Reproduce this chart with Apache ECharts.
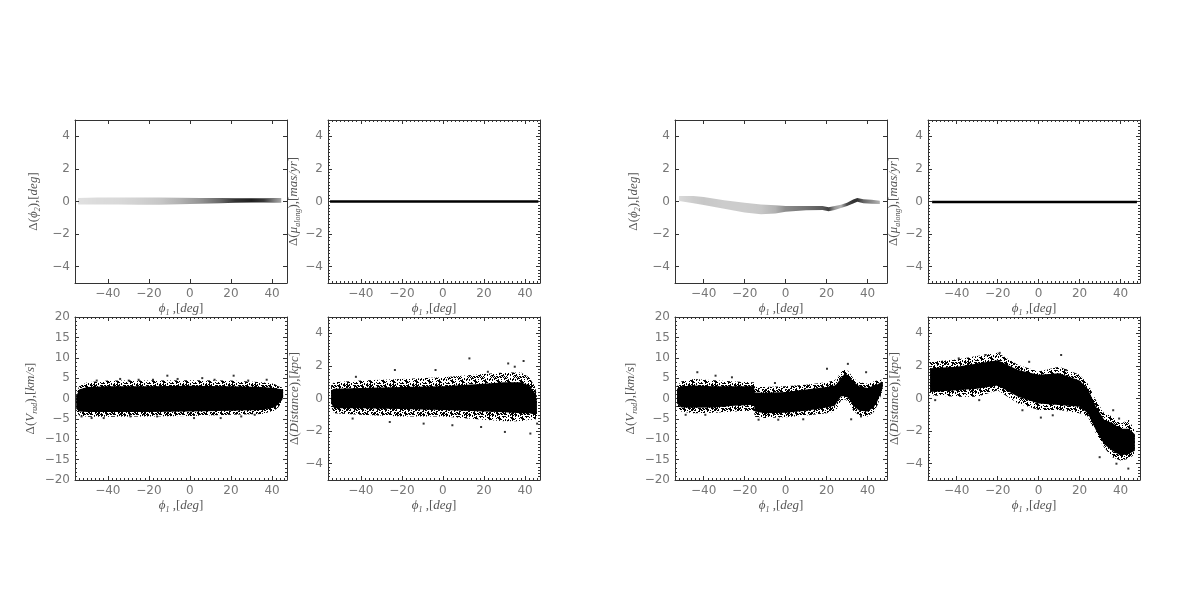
<!DOCTYPE html>
<html>
<head>
<meta charset="utf-8">
<title>stream residuals</title>
<script src="https://cdn.jsdelivr.net/npm/echarts@6/dist/echarts.min.js"></script>
<style>
  html, body { margin: 0; padding: 0; background: #fff; }
  #chart { width: 1200px; height: 600px; }
</style>
</head>
<body>
<div id="chart"></div>
<script>
// ---------- values ----------
// tick labels
const phi1Ticks = [-40, -20, 0, 20, 40];
const smallTicks = [-4, -2, 0, 2, 4];
const vradTicks = [-20, -15, -10, -5, 0, 5, 10, 15, 20];

// model 1 (left block) -- delta phi2, faint grey band (centre, half width, darkness)
const m1Phi2X = [-54.5, -45, -35, -25, -15, -5, 5, 15, 22, 30, 36, 41, 44.5];
const m1Phi2Mid = [0.02, 0.03, 0.03, 0.02, 0.02, 0.03, 0.04, 0.05, 0.06, 0.07, 0.07, 0.07, 0.07];
const m1Phi2Half = [0.2, 0.22, 0.22, 0.22, 0.22, 0.2, 0.18, 0.16, 0.14, 0.13, 0.13, 0.14, 0.14];
const m1Phi2Dens = [0.12, 0.14, 0.15, 0.18, 0.22, 0.3, 0.42, 0.6, 0.8, 0.88, 0.78, 0.5, 0.35];

// model 1 -- delta mu_along, thin line
const m1MuX = [-55, 46.5];
const m1MuMid = [0, 0];
const m1MuHalf = [0.08, 0.08];

// model 1 -- delta V_rad cloud (dense core and speckled fringe)
const m1VradX = [-55.4, -54, -50, -40, -20, 0, 20, 35, 41, 43, 45, 45.4];
const m1VradCoreLo = [-2.5, -3.2, -3.3, -3.3, -3.3, -3.2, -3.0, -2.8, -2.2, -1.5, -0.3, 0.5];
const m1VradCoreHi = [0.5, 2.2, 2.8, 3.0, 3.0, 3.1, 3.0, 2.8, 2.6, 2.4, 2.3, 2.0];
const m1VradOutLo = [-3.0, -4.2, -4.5, -4.5, -4.4, -4.3, -4.0, -3.8, -3.0, -2.2, -0.8, 0.3];
const m1VradOutHi = [1.0, 3.0, 4.0, 4.4, 4.4, 4.5, 4.4, 4.0, 3.6, 3.0, 2.7, 2.3];
const m1VradDotX = [-45.4, -34, -29.8, -25, -18, -11, -6, 6, 12, 21.3, 28.4, 37.4,
  -52.8, -47.9, -42, -29, -16, 2, 15, 25, 31.6];
const m1VradDotY = [4.4, 4.8, 4.4, 4.6, 4.6, 5.6, 4.8, 5, 4.6, 5.6, 4.4, 4.6,
  -4.4, -4.8, -4.8, -4.4, -4.4, -4.8, -4.8, -4.4, -4.0];

// model 1 -- delta distance cloud
const m1DistX = [-54.5, -53, -40, -20, 0, 20, 30, 38, 42, 45, 45.8];
const m1DistCoreLo = [-0.3, -0.6, -0.6, -0.65, -0.7, -0.8, -0.85, -0.9, -0.9, -1.0, -0.9];
const m1DistCoreHi = [0.5, 0.6, 0.65, 0.7, 0.75, 0.9, 1.0, 1.0, 0.8, 0.3, -0.2];
const m1DistOutLo = [-0.5, -0.9, -1.0, -1.1, -1.1, -1.3, -1.4, -1.4, -1.3, -1.3, -1.1];
const m1DistOutHi = [0.8, 1.0, 1.1, 1.2, 1.3, 1.5, 1.6, 1.6, 1.3, 0.7, 0.1];
const m1DistDotX = [12.9, 39.3, 31.8, -3.6, -23.4, -42.4, 21.9, 35,
  42.6, 30.2, 18.6, 4.6, -9.4, -25.9, -44, 45.9];
const m1DistDotY = [2.46, 2.3, 2.15, 1.75, 1.75, 1.33, 1.64, 1.95,
  -2.15, -2.05, -1.75, -1.64, -1.54, -1.44, -1.23, -1.54];

// model 2 (right block) -- delta phi2
const m2Phi2X = [-52, -45, -40, -30, -20, -12, -5, 0, 10, 18, 21, 24, 27, 30, 33, 35, 38, 42, 46];
const m2Phi2Mid = [0.18, 0.12, 0.03, -0.18, -0.38, -0.48, -0.48, -0.45, -0.4, -0.4, -0.48, -0.4, -0.3, -0.18, 0.0, 0.1, 0.02, -0.02, -0.05];
const m2Phi2Half = [0.15, 0.22, 0.24, 0.26, 0.3, 0.3, 0.25, 0.18, 0.13, 0.12, 0.12, 0.12, 0.1, 0.1, 0.12, 0.12, 0.12, 0.12, 0.1];
const m2Phi2Dens = [0.15, 0.2, 0.22, 0.2, 0.2, 0.22, 0.3, 0.45, 0.55, 0.65, 0.75, 0.4, 0.3, 0.7, 0.8, 0.8, 0.6, 0.45, 0.3];

// model 2 -- delta mu_along
const m2MuX = [-52, 48];
const m2MuMid = [-0.03, -0.03];
const m2MuHalf = [0.08, 0.08];

// model 2 -- delta V_rad
const m2VradX = [-53, -51, -45, -35, -25, -17, -15.5, -15, -10, 0, 10, 20, 24, 25, 27, 29, 31, 33, 36, 40, 43, 45, 47, 47.5];
const m2VradCoreLo = [-1.2, -2.2, -2.3, -2.2, -1.8, -1.6, -1.6, -3.2, -3.6, -3.5, -3.0, -2.2, -1.8, -1.0, 0.5, 0.6, 0.0, -1.8, -3.0, -3.2, -2.2, -0.5, 2.0, 3.0];
const m2VradCoreHi = [2.4, 3.0, 3.2, 3.0, 3.0, 3.0, 3.0, 1.5, 1.4, 1.6, 2.2, 2.8, 3.2, 3.6, 5.0, 6.2, 5.5, 4.2, 3.0, 2.6, 3.2, 3.5, 4.2, 3.8];
const m2VradOutLo = [-2.0, -3.2, -3.6, -3.5, -3.2, -3.0, -3.0, -4.5, -4.8, -4.6, -4.2, -3.6, -3.2, -2.5, -0.5, -0.2, -1.0, -3.0, -4.2, -4.4, -3.4, -1.5, 1.5, 2.8];
const m2VradOutHi = [3.0, 4.2, 4.8, 4.5, 4.2, 4.0, 4.0, 2.8, 2.8, 3.0, 3.4, 4.0, 4.5, 5.0, 6.5, 7.3, 6.5, 5.0, 4.0, 3.6, 4.2, 4.5, 4.6, 4.0];
const m2VradDotX = [-43.1, -34.2, -26.2, 20.2, 30.4, 39.3, -5.2,
  -48.8, -39.2, -13.2, -3.6, 8.6, 32, 36.8];
const m2VradDotY = [6.45, 5.6, 5.2, 7.3, 8.5, 6.45, 3.8,
  -4.0, -4.0, -5.2, -5.2, -5.1, -5.1, -4.4];

// model 2 -- delta distance
const m2DistX = [-53, -40, -30, -20, -10, 0, 10, 20, 24, 28, 32, 36, 40, 44, 47];
const m2DistCoreLo = [0.4, 0.5, 0.6, 0.8, 0.1, -0.3, -0.4, -0.5, -0.9, -1.95, -2.8, -3.2, -3.5, -3.4, -3.2];
const m2DistCoreHi = [1.85, 1.95, 2.15, 2.35, 1.75, 1.45, 1.55, 1.1, 0.6, -0.5, -1.3, -1.5, -1.85, -1.85, -2.2];
const m2DistOutLo = [0.2, 0.1, 0.1, 0.5, -0.3, -0.7, -0.7, -0.9, -1.1, -2.15, -3.0, -3.6, -3.8, -3.7, -3.4];
const m2DistOutHi = [2.25, 2.4, 2.6, 2.8, 2.05, 1.65, 1.95, 1.45, 0.9, -0.1, -0.9, -1.1, -1.55, -1.3, -2.0];
const m2DistDotX = [-19, -26, -4.6, 11, 13.4, -39, -47.2, 36.4, 39.3,
  1.1, 6.9, -7.9, 43.8, 38, 29.8, -29, -50.5];
const m2DistDotY = [2.8, 2.67, 2.25, 2.67, 1.74, 2.46, 2.25, -0.72, -1.23,
  -1.17, -1.03, -0.72, -4.3, -4.0, -3.6, -0.1, -0.1];

// ---------- layout / style ----------
const frameColor = '#333';
const tickLabelColor = '#777';
const nameColor = '#555';
const gridW = 212, gridH = 163;
const gridPos = [[75, 120], [328, 120], [75, 317], [328, 317],
                 [675, 120], [928, 120], [675, 317], [928, 317]];

// speckle texture for the sparse fringe of the point clouds (fixed, irregular tile)
const speckle = document.createElement('canvas');
speckle.width = 23;
speckle.height = 23;
(function () {
  const c = speckle.getContext('2d');
  c.fillStyle = '#000';
  for (let y = 0; y < 23; y++) {
    for (let x = 0; x < 23; x++) {
      if ((x * x * 31 + y * y * 17 + x * y * 7 + x * 3 + y * 5) % 23 < 9) c.fillRect(x, y, 1, 1);
    }
  }
})();

const mathFont = 'Liberation Serif';
const rich = {
  r: { fontFamily: mathFont, fontSize: 13, color: nameColor, lineHeight: 16 },
  i: { fontFamily: mathFont, fontStyle: 'italic', fontSize: 13, color: nameColor, lineHeight: 16 },
  s: { fontFamily: mathFont, fontStyle: 'italic', fontSize: 8, color: nameColor, lineHeight: 9, verticalAlign: 'bottom' }
};
const names = {
  phi1: '{i|ϕ}{s|1}{r| ,[}{i|deg}{r|]}',
  phi2: '{r|Δ(}{i|ϕ}{s|2}{r|),[}{i|deg}{r|]}',
  mu: '{r|Δ(}{i|μ}{s|along}{r|),[}{i|mas/yr}{r|]}',
  vrad: '{r|Δ(}{i|V}{s|rad}{r|),[}{i|km/s}{r|]}',
  dist: '{r|Δ(}{i|Distance}{r|),[}{i|kpc}{r|]}'
};

const fmt = v => String(v).replace('-', '\u2212');

const xAxes = [], yAxes = [], series = [];

function addAxes(list, isX, gi, range, majors, minorStep, withMinor, name, gap) {
  const pos = isX ? ['bottom', 'top'] : ['left', 'right'];
  const base = {
    type: 'value', gridIndex: gi, min: range[0], max: range[1],
    splitLine: { show: false }
  };
  const line = { show: true, onZero: false, lineStyle: { color: frameColor, width: 1 } };
  const tick = { show: true, inside: true, length: 4, customValues: majors,
    lineStyle: { color: frameColor, width: 1 } };
  const mainIndex = list.length;
  list.push(Object.assign({}, base, {
    position: pos[0], axisLine: line, axisTick: tick,
    axisLabel: { customValues: majors, formatter: fmt, margin: 5, color: tickLabelColor,
      fontSize: 12, fontFamily: 'DejaVu Sans' },
    name: name, nameLocation: 'middle', nameGap: gap, nameRotate: isX ? 0 : 90,
    nameTextStyle: { rich: rich }
  }));
  list.push(Object.assign({}, base, {
    position: pos[1], axisLine: line, axisTick: tick, axisLabel: { show: false }
  }));
  if (withMinor) {
    for (const p of pos) {
      list.push(Object.assign({}, base, {
        position: p, interval: minorStep,
        axisLine: { show: false, onZero: false },
        axisTick: { show: true, inside: true, length: 2, lineStyle: { color: frameColor, width: 1 } },
        axisLabel: { show: false }
      }));
    }
  }
  return mainIndex;
}

// one filled polygon through all knots of a band, via the axis scales
function bandSeries(xi, yi, xs, lo, hi, dens, solid) {
  return {
    type: 'custom', xAxisIndex: xi, yAxisIndex: yi, coordinateSystem: 'cartesian2d',
    silent: true, z: solid ? 3 : 2,
    data: xs.map((x, i) => [x, lo[i], hi[i], dens ? dens[i] : 1]),
    encode: { x: 0, y: [1, 2] },
    renderItem: function (params, api) {
      if (params.dataIndexInside !== 0) return;
      const n = params.dataInsideLength;
      const top = [], bot = [];
      for (let j = 0; j < n; j++) {
        const x = api.value(0, j);
        top.push(api.coord([x, api.value(2, j)]));
        bot.push(api.coord([x, api.value(1, j)]));
      }
      let fill;
      if (dens) {
        const x0 = top[0][0], x1 = top[n - 1][0];
        const stops = [];
        for (let j = 0; j < n; j++) {
          stops.push({ offset: (top[j][0] - x0) / (x1 - x0),
            color: 'rgba(0,0,0,' + api.value(3, j) + ')' });
        }
        fill = { type: 'linear', x: x0, y: 0, x2: x1, y2: 0, global: true, colorStops: stops };
      } else {
        fill = solid ? '#000' : { image: speckle, repeat: 'repeat' };
      }
      return {
        type: 'polygon',
        shape: { points: top.concat(bot.reverse()) },
        style: { fill: fill, stroke: null }
      };
    }
  };
}

function dotSeries(xi, yi, xs, ys) {
  return {
    type: 'scatter', xAxisIndex: xi, yAxisIndex: yi, silent: true, z: 4,
    symbol: 'rect', symbolSize: 2, itemStyle: { color: '#000' },
    data: xs.map((x, i) => [x, ys[i]])
  };
}

const panels = [
  { xr: [-56, 47.3], yr: [-5, 5], yt: smallTicks, ym: 0.2, minor: false, name: names.phi2, gap: 33 },
  { xr: [-56, 47.3], yr: [-5, 5], yt: smallTicks, ym: 0.2, minor: true, name: names.mu, gap: 25 },
  { xr: [-56, 47.3], yr: [-20, 20], yt: vradTicks, ym: 1, minor: true, name: names.vrad, gap: 36 },
  { xr: [-56, 47.3], yr: [-5, 5], yt: smallTicks, ym: 0.2, minor: true, name: names.dist, gap: 25 },
  { xr: [-54, 49.5], yr: [-5, 5], yt: smallTicks, ym: 0.2, minor: false, name: names.phi2, gap: 33 },
  { xr: [-54, 49.5], yr: [-5, 5], yt: smallTicks, ym: 0.2, minor: true, name: names.mu, gap: 25 },
  { xr: [-54, 49.5], yr: [-20, 20], yt: vradTicks, ym: 1, minor: true, name: names.vrad, gap: 36 },
  { xr: [-54, 49.5], yr: [-5, 5], yt: smallTicks, ym: 0.2, minor: true, name: names.dist, gap: 25 }
];

const grids = gridPos.map(p => ({ left: p[0], top: p[1], width: gridW, height: gridH }));
const ax = panels.map((p, gi) => ({
  x: addAxes(xAxes, true, gi, p.xr, phi1Ticks, 2, p.minor, names.phi1, 18),
  y: addAxes(yAxes, false, gi, p.yr, p.yt, p.ym, p.minor, p.name, p.gap)
}));

const lower = (m, h) => m.map((v, i) => v - h[i]);
const upper = (m, h) => m.map((v, i) => v + h[i]);

function cloud(k, xs, cLo, cHi, oLo, oHi, dx, dy) {
  series.push(bandSeries(ax[k].x, ax[k].y, xs, oLo, oHi, null, false));
  series.push(bandSeries(ax[k].x, ax[k].y, xs, cLo, cHi, null, true));
  series.push(dotSeries(ax[k].x, ax[k].y, dx, dy));
}

// model 1
series.push(bandSeries(ax[0].x, ax[0].y, m1Phi2X, lower(m1Phi2Mid, m1Phi2Half), upper(m1Phi2Mid, m1Phi2Half), m1Phi2Dens));
series.push(bandSeries(ax[1].x, ax[1].y, m1MuX, lower(m1MuMid, m1MuHalf), upper(m1MuMid, m1MuHalf), null, true));
cloud(2, m1VradX, m1VradCoreLo, m1VradCoreHi, m1VradOutLo, m1VradOutHi, m1VradDotX, m1VradDotY);
cloud(3, m1DistX, m1DistCoreLo, m1DistCoreHi, m1DistOutLo, m1DistOutHi, m1DistDotX, m1DistDotY);
// model 2
series.push(bandSeries(ax[4].x, ax[4].y, m2Phi2X, lower(m2Phi2Mid, m2Phi2Half), upper(m2Phi2Mid, m2Phi2Half), m2Phi2Dens));
series.push(bandSeries(ax[5].x, ax[5].y, m2MuX, lower(m2MuMid, m2MuHalf), upper(m2MuMid, m2MuHalf), null, true));
cloud(6, m2VradX, m2VradCoreLo, m2VradCoreHi, m2VradOutLo, m2VradOutHi, m2VradDotX, m2VradDotY);
cloud(7, m2DistX, m2DistCoreLo, m2DistCoreHi, m2DistOutLo, m2DistOutHi, m2DistDotX, m2DistDotY);

const chart = echarts.init(document.getElementById('chart'));
chart.setOption({
  animation: false,
  backgroundColor: '#fff',
  grid: grids.map(g => Object.assign({ outerBoundsMode: 'none' }, g)),
  xAxis: xAxes,
  yAxis: yAxes,
  series: series
});
</script>
</body>
</html>
